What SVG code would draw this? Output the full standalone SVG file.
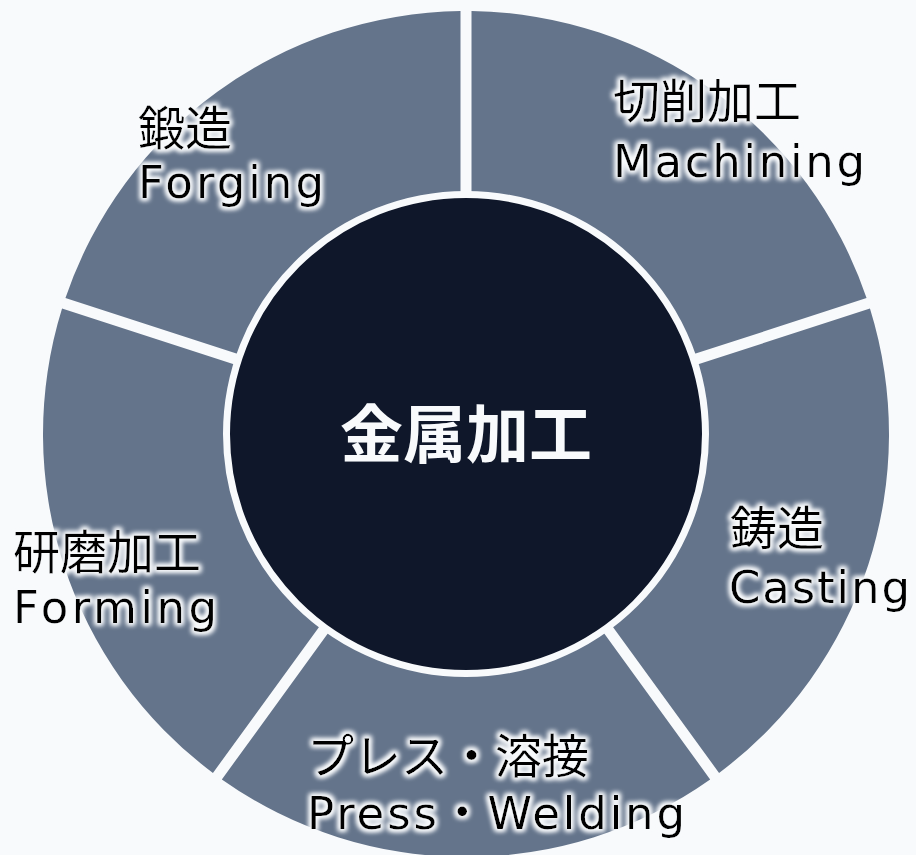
<svg xmlns="http://www.w3.org/2000/svg" width="916" height="855" viewBox="0 0 916 855">
<defs>
<style>
.seg{fill:#64748b;}
.jp{font-family:"Noto Sans CJK JP","Noto Sans",sans-serif;font-size:47px;fill:#000;}
.en{font-family:"DejaVu Sans","Noto Sans CJK JP",sans-serif;font-size:45px;fill:#000;}
.lbl{filter:url(#glow);}
.center{font-family:"Noto Sans CJK JP",sans-serif;font-size:63px;font-weight:700;fill:#f8fafc;}
</style>
<filter id="glow" x="-20%" y="-30%" width="140%" height="160%">
<feMorphology in="SourceAlpha" operator="dilate" radius="2" result="d"/>
<feGaussianBlur in="d" stdDeviation="2.5" result="b"/>
<feFlood flood-color="#f8fafc"/>
<feComposite in2="b" operator="in" result="g"/>
<feMerge><feMergeNode in="g"/><feMergeNode in="g"/><feMergeNode in="SourceGraphic"/></feMerge>
</filter>
</defs>
<rect width="916" height="855" fill="#f8fafc"/>
<g id="machining">
<path class="seg" d="M471.5 11.04 A423 423 0 0 1 866.56 298.07 L692.5 354.62 A240 240 0 0 0 471.5 194.06 Z"/>
<g class="lbl"><text class="jp" x="613" y="118">切削加工</text><text class="en" x="613" y="177" textLength="252" lengthAdjust="spacing">Machining</text></g>
</g>
<g id="casting">
<path class="seg" d="M869.96 308.53 A423 423 0 0 1 719.06 772.95 L611.48 624.89 A240 240 0 0 0 695.9 365.08 Z"/>
<g class="lbl"><text class="jp" x="730" y="545">鋳造</text><text class="en" x="729" y="603" textLength="181" lengthAdjust="spacing">Casting</text></g>
</g>
<g id="press-welding">
<path class="seg" d="M710.16 779.41 A423 423 0 0 1 221.84 779.41 L329.42 631.35 A240 240 0 0 0 602.58 631.35 Z"/>
<g class="lbl"><text class="jp" x="307" y="773">プレス・溶接</text><text class="en" x="307" y="829" textLength="378" lengthAdjust="spacing">Press・Welding</text></g>
</g>
<g id="forming">
<path class="seg" d="M212.94 772.95 A423 423 0 0 1 62.04 308.53 L236.1 365.08 A240 240 0 0 0 320.52 624.89 Z"/>
<g class="lbl"><text class="jp" x="13" y="569">研磨加工</text><text class="en" x="13" y="623" textLength="204" lengthAdjust="spacing">Forming</text></g>
</g>
<g id="forging">
<path class="seg" d="M65.44 298.07 A423 423 0 0 1 460.5 11.04 L460.5 194.06 A240 240 0 0 0 239.5 354.62 Z"/>
<g class="lbl"><text class="jp" x="138" y="145">鍛造</text><text class="en" x="138" y="198" textLength="186" lengthAdjust="spacing">Forging</text></g>
</g>
<g id="connectors"></g>
<g id="center">
<circle cx="466" cy="434" r="239.5" fill="#0f172a" stroke="#f8fafc" stroke-width="7"/>
<text class="center" x="466" y="457" text-anchor="middle">金属加工</text>
</g>
</svg>
